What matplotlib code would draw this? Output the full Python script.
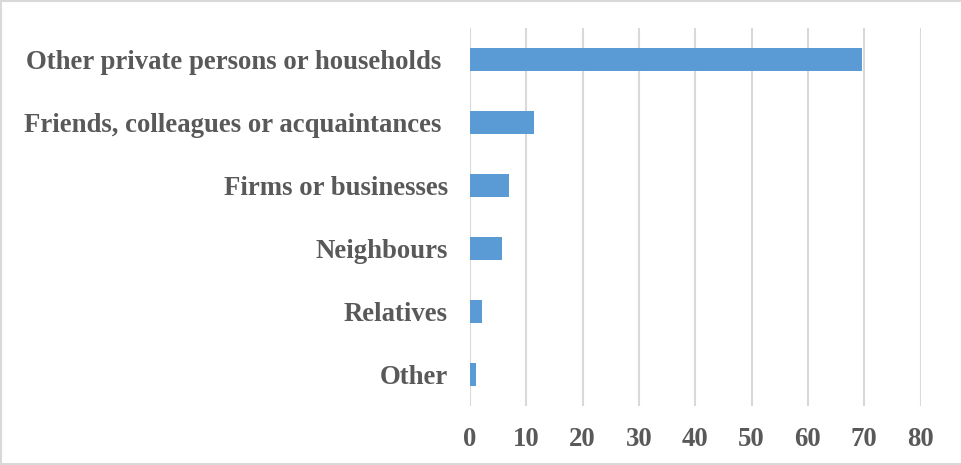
import matplotlib
matplotlib.use("Agg")
import matplotlib.pyplot as plt
from matplotlib.lines import Line2D

categories = ["Other private persons or households ",
              "Friends, colleagues or acquaintances ",
              "Firms or businesses",
              "Neighbours",
              "Relatives",
              "Other"]
values = [69.6, 11.4, 6.9, 5.7, 2.1, 1.1]
xticks = [0, 10, 20, 30, 40, 50, 60, 70, 80]

W, H = 961, 465
fig = plt.figure(figsize=(W / 100, H / 100), dpi=100)
ax = fig.add_axes([470 / W, 1 - 406 / H, (920.5 - 470) / W, (406 - 28) / H])

ypos = list(range(len(categories)))
ax.barh(ypos, values, height=0.35, color="#5b9bd5", zorder=3)
ax.set_ylim(len(categories) - 0.5, -0.5)
ax.set_xlim(0, 80)
ax.set_xticks(xticks)
ax.set_xticklabels([str(t) for t in xticks])
ax.set_yticks(ypos)
ax.set_yticklabels(categories)

for s in ax.spines.values():
    s.set_visible(False)
ax.grid(axis="x", color="#d9d9d9", linewidth=1.5, zorder=0)
ax.tick_params(axis="both", length=0)
ax.tick_params(axis="y", pad=16)
ax.tick_params(axis="x", pad=15)
for lab in ax.get_xticklabels() + ax.get_yticklabels():
    lab.set_fontfamily("Liberation Serif")
    lab.set_fontweight("bold")
    lab.set_fontsize(19.3)
    lab.set_color("#595959")

# figure frame (left, top, bottom; right edge is cropped in the reference)
frame_kw = dict(transform=fig.transFigure, color="#d9d9d9", linewidth=1.5)
fig.lines.append(Line2D([0.001, 0.001], [0.002, 0.998], **frame_kw))
fig.lines.append(Line2D([0.001, 1.0], [0.998, 0.998], **frame_kw))
fig.lines.append(Line2D([0.001, 1.0], [0.002, 0.002], **frame_kw))
fig.savefig("out.png", dpi=100)
